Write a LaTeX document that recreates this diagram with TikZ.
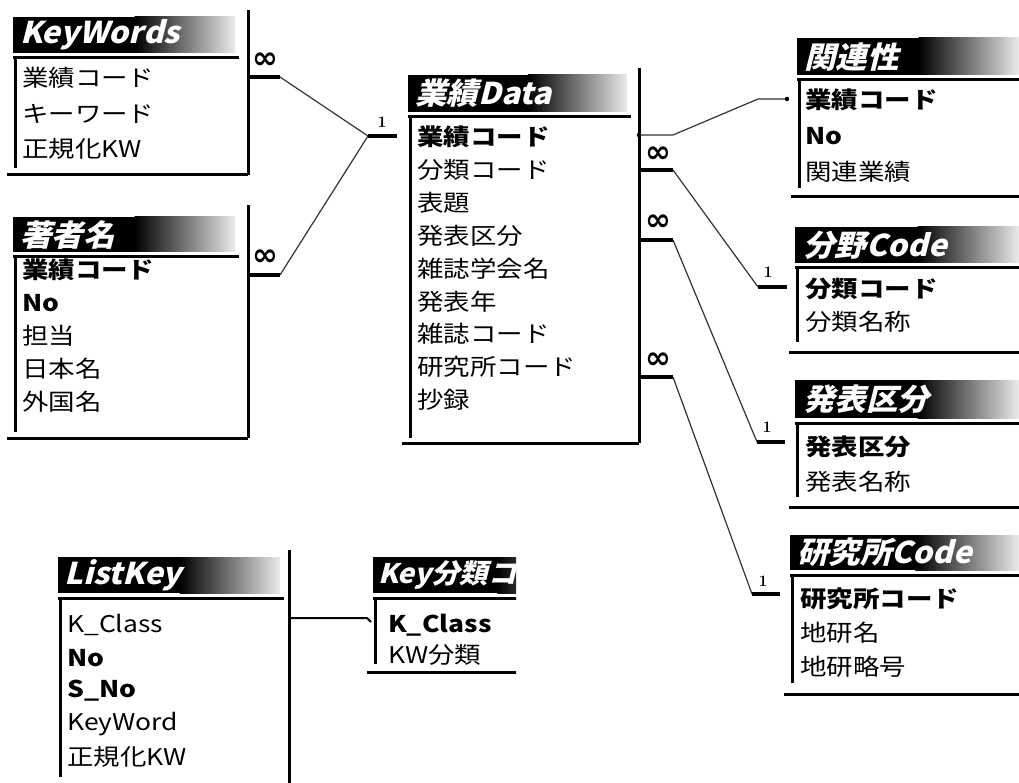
\documentclass[tikz,border=0pt]{standalone}
\usepackage{fontspec}
\newfontfamily\rowf{Noto Sans CJK JP}[FakeStretch=1.15]
\newfontfamily\ttlf{Noto Sans CJK JP}[FakeSlant=0.25,FakeStretch=1.05]
\newfontfamily\symf{DejaVu Sans}
\usetikzlibrary{calc}
\tikzset{
  rim/.style={line width=3pt, black},
  row/.style={anchor=west, inner sep=0pt, font=\rowf\fontsize{23}{23}\selectfont},
  keyrow/.style={anchor=west, inner sep=0pt, font=\rowf\bfseries\fontsize{23}{23}\selectfont},
  ttl/.style={anchor=west, inner sep=0pt, text=white, font=\ttlf\bfseries\fontsize{30}{30}\selectfont},
  link/.style={line width=1.2pt, black!80},
  stub/.style={line width=3.5pt, black},
  many/.style={inner sep=0pt, font=\symf\bfseries\fontsize{31}{31}\selectfont},
  one/.style={inner sep=0pt, font=\bfseries\fontsize{16}{16}\selectfont},
}
% #1 bar left, #2 bar right, #3 bar top, #4 bar bottom, #5 right line x,
% #6 right line top, #7 bottom line y, #8 left line bottom
\newcommand\tblframe[8]{%
  \fill[black] (#1,#3) rectangle ({#1+0.55*(#2-#1)},#4);
  \shade[left color=black, right color=black!8] ({#1+0.55*(#2-#1)-0.5},#3) rectangle (#2,#4);
  \draw[rim] (#1,#4+5) -- (#2+4,#4+5);
  \draw[rim] (#1+2,#4+5) -- (#1+2,#8);
  \draw[rim] (#5,#6) -- (#5,#7);
  \draw[rim] (#1-6,#7) -- (#5,#7);
}
\begin{document}
\begin{tikzpicture}[x=1pt,y=-1pt]
\useasboundingbox (0,0) rectangle (1019,783);
\clip (0,0) rectangle (1019,783);
\fill[white] (0,0) rectangle (1019,783);

% KeyWords
\tblframe{13}{235}{17}{53}{248}{10}{175}{168}
\node[ttl] (kw) at (20,35) {KeyWords};
\node[row] (kw1) at (22,78) {業績コード};
\node[row] (kw2) at (22,114) {キーワード};
\node[row] (kw3) at (22,149) {正規化KW};

% 著者名
\tblframe{13}{235}{217}{252}{248}{205}{438}{432}
\node[ttl] (au) at (20,235) {著者名};
\node[keyrow] (au1) at (22,270) {業績コード};
\node[keyrow] (au2) at (22,303) {No};
\node[row] (au3) at (22,336) {担当};
\node[row] (au4) at (22,369) {日本名};
\node[row] (au5) at (22,402) {外国名};

% 業績Data
\tblframe{408}{627}{75}{112}{639}{68}{443}{438}
\node[ttl] (gd) at (415,93) {業績Data};
\node[keyrow] (gd1) at (417,137) {業績コード};
\node[row] (gd2) at (417,170) {分類コード};
\node[row] (gd3) at (417,203) {表題};
\node[row] (gd4) at (417,236) {発表区分};
\node[row] (gd5) at (417,269) {雑誌学会名};
\node[row] (gd6) at (417,302) {発表年};
\node[row] (gd7) at (417,334) {雑誌コード};
\node[row] (gd8) at (417,367) {研究所コード};
\node[row] (gd9) at (417,400) {抄録};

% 関連性
\tblframe{797}{1019}{38}{75}{1030}{0}{197}{188}
\node[ttl] (kr) at (804,57) {関連性};
\node[keyrow] (kr1) at (805,100) {業績コード};
\node[keyrow] (kr2) at (805,136) {No};
\node[row] (kr3) at (805,172) {関連業績};

% 分野Code
\tblframe{795}{1019}{227}{263}{1030}{0}{352}{342}
\node[ttl] (bc) at (803,245) {分野Code};
\node[keyrow] (bc1) at (805,289) {分類コード};
\node[row] (bc2) at (805,322) {分類名称};

% 発表区分
\tblframe{795}{1019}{380}{418}{1030}{0}{507}{497}
\node[ttl] (hk) at (803,399) {発表区分};
\node[keyrow] (hk1) at (805,447) {発表区分};
\node[row] (hk2) at (805,482) {発表名称};

% 研究所Code
\tblframe{790}{1019}{535}{570}{1030}{0}{694}{683}
\node[ttl] (kc) at (797,552) {研究所Code};
\node[keyrow] (kc1) at (800,599) {研究所コード};
\node[row] (kc2) at (800,633) {地研名};
\node[row] (kc3) at (800,667) {地研略号};

% ListKey
\tblframe{58}{280}{557}{593}{289}{550}{800}{777}
\node[ttl] (lk) at (64,575) {ListKey};
\node[row] (lk1) at (67,625) {K\_Class};
\node[keyrow] (lk2) at (67,658) {No};
\node[keyrow] (lk3) at (67,691) {S\_No};
\node[row] (lk4) at (67,724) {KeyWord};
\node[row] (lk5) at (67,757) {正規化KW};

% Key分類コード
\begin{scope}
\clip (365,550) rectangle (516,700);
\tblframe{373}{600}{557}{593}{1000}{0}{672}{664}
\node[ttl, font=\ttlf\bfseries\fontsize{27}{27}\selectfont] (kb) at (378,575) {Key分類コード};
\end{scope}
\node[keyrow] (kb1) at (388,625) {K\_Class};
\node[row] (kb2) at (388,655) {KW分類};

% connectors
\coordinate (c1a) at (248,77);  \coordinate (c1b) at (280,77);
\coordinate (c1c) at (368,136); \coordinate (c1d) at (397,136);
\coordinate (c2a) at (248,275); \coordinate (c2b) at (280,275);
\draw[stub] (c1a) -- (c1b);
\draw[link] (c1b) -- (c1c);
\draw[stub] (c1c) -- (c1d);
\draw[stub] (c2a) -- (c2b);
\draw[link] (c2b) -- (c1c);
\node[many] (m1) at (265,61) {∞};
\node[many] (m2) at (265,258) {∞};
\node[one] (o1) at (382,122) {1};

\coordinate (c3a) at (639,135); \coordinate (c3b) at (673,135);
\coordinate (c3c) at (758,99);  \coordinate (c3d) at (787,99);
\draw[link] (c3a) -- (c3b) -- (c3c) -- (c3d);
\fill (c3a) circle[radius=2.2pt];
\fill (c3d) circle[radius=2.2pt];

\coordinate (c4a) at (639,170); \coordinate (c4b) at (673,170);
\coordinate (c4c) at (758,287); \coordinate (c4d) at (787,287);
\draw[stub] (c4a) -- (c4b);
\draw[link] (c4b) -- (c4c);
\draw[stub] (c4c) -- (c4d);
\node[many] (m4) at (658,155) {∞};
\node[one] (o4) at (768,272) {1};

\coordinate (c5a) at (639,240); \coordinate (c5b) at (673,240);
\coordinate (c5c) at (757,442); \coordinate (c5d) at (785,442);
\draw[stub] (c5a) -- (c5b);
\draw[link] (c5b) -- (c5c);
\draw[stub] (c5c) -- (c5d);
\node[many] (m5) at (658,223) {∞};
\node[one] (o5) at (767,427) {1};

\coordinate (c6a) at (639,377); \coordinate (c6b) at (673,377);
\coordinate (c6c) at (752,594); \coordinate (c6d) at (780,594);
\draw[stub] (c6a) -- (c6b);
\draw[link] (c6b) -- (c6c);
\draw[stub] (c6c) -- (c6d);
\node[many] (m6) at (658,361) {∞};
\node[one] (o6) at (763,581) {1};

\coordinate (c7a) at (289,618); \coordinate (c7b) at (367,618); \coordinate (c7c) at (371,622);
\draw[line width=2pt] (c7a) -- (c7b) -- (c7c);
\end{tikzpicture}
\end{document}
